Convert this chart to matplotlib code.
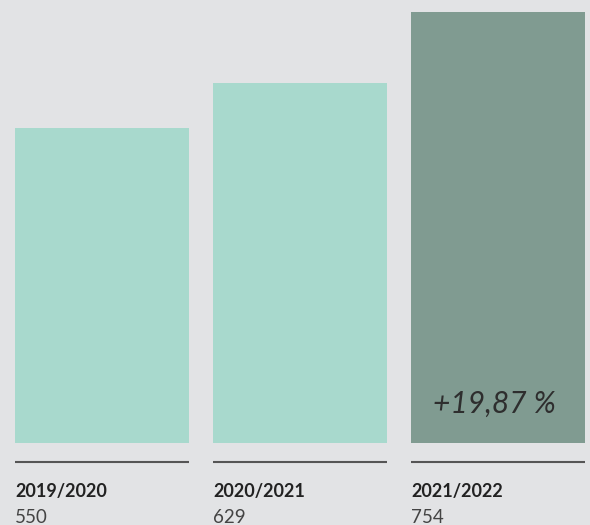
import matplotlib.pyplot as plt
import matplotlib.transforms as mtransforms

seasons = ["2019/2020", "2020/2021", "2021/2022"]
values = [550, 629, 754]
change_label = "+19,87 %"

bg = "#e2e3e5"
bar_colors = ["#a8d9cd", "#a8d9cd", "#809b91"]

plt.rcParams['font.family'] = ['Lato', 'DejaVu Sans']

fig = plt.figure(figsize=(5.9, 5.25), dpi=100)
fig.patch.set_facecolor(bg)
ax = fig.add_axes([0, (525 - 443) / 525, 1, 443 / 525])
ax.set_facecolor(bg)

x = list(range(len(values)))
ax.bar(x, values, width=174 / 198, color=bar_colors, linewidth=0)
ax.set_xlim(-102 / 198, 488 / 198)
ax.set_ylim(0, 443 / 0.572)
ax.set_axis_off()

# Linien und Beschriftungen unter den Balken
trans = mtransforms.blended_transform_factory(ax.transData, ax.transAxes)
half = 174 / 198 / 2
for i, (s, v) in enumerate(zip(seasons, values)):
    ax.plot([i - half, i + half], [-19 / 443, -19 / 443], color="#555555",
            lw=1.5, transform=trans, clip_on=False, solid_capstyle="butt")
    ax.text(i - half, -54 / 443, s, transform=trans, fontsize=13,
            fontweight="bold", color="#222222", va="baseline", ha="left")
    ax.text(i - half, -80 / 443, str(v), transform=trans, fontsize=13.5,
            color="#444444", va="baseline", ha="left")

ax.text(x[-1] - 0.02, 52, change_label, fontsize=21.5, style="italic",
        fontweight="normal", color="#2e2e2e", ha="center", va="baseline")

fig.savefig("out.png", dpi=100, facecolor=bg)
